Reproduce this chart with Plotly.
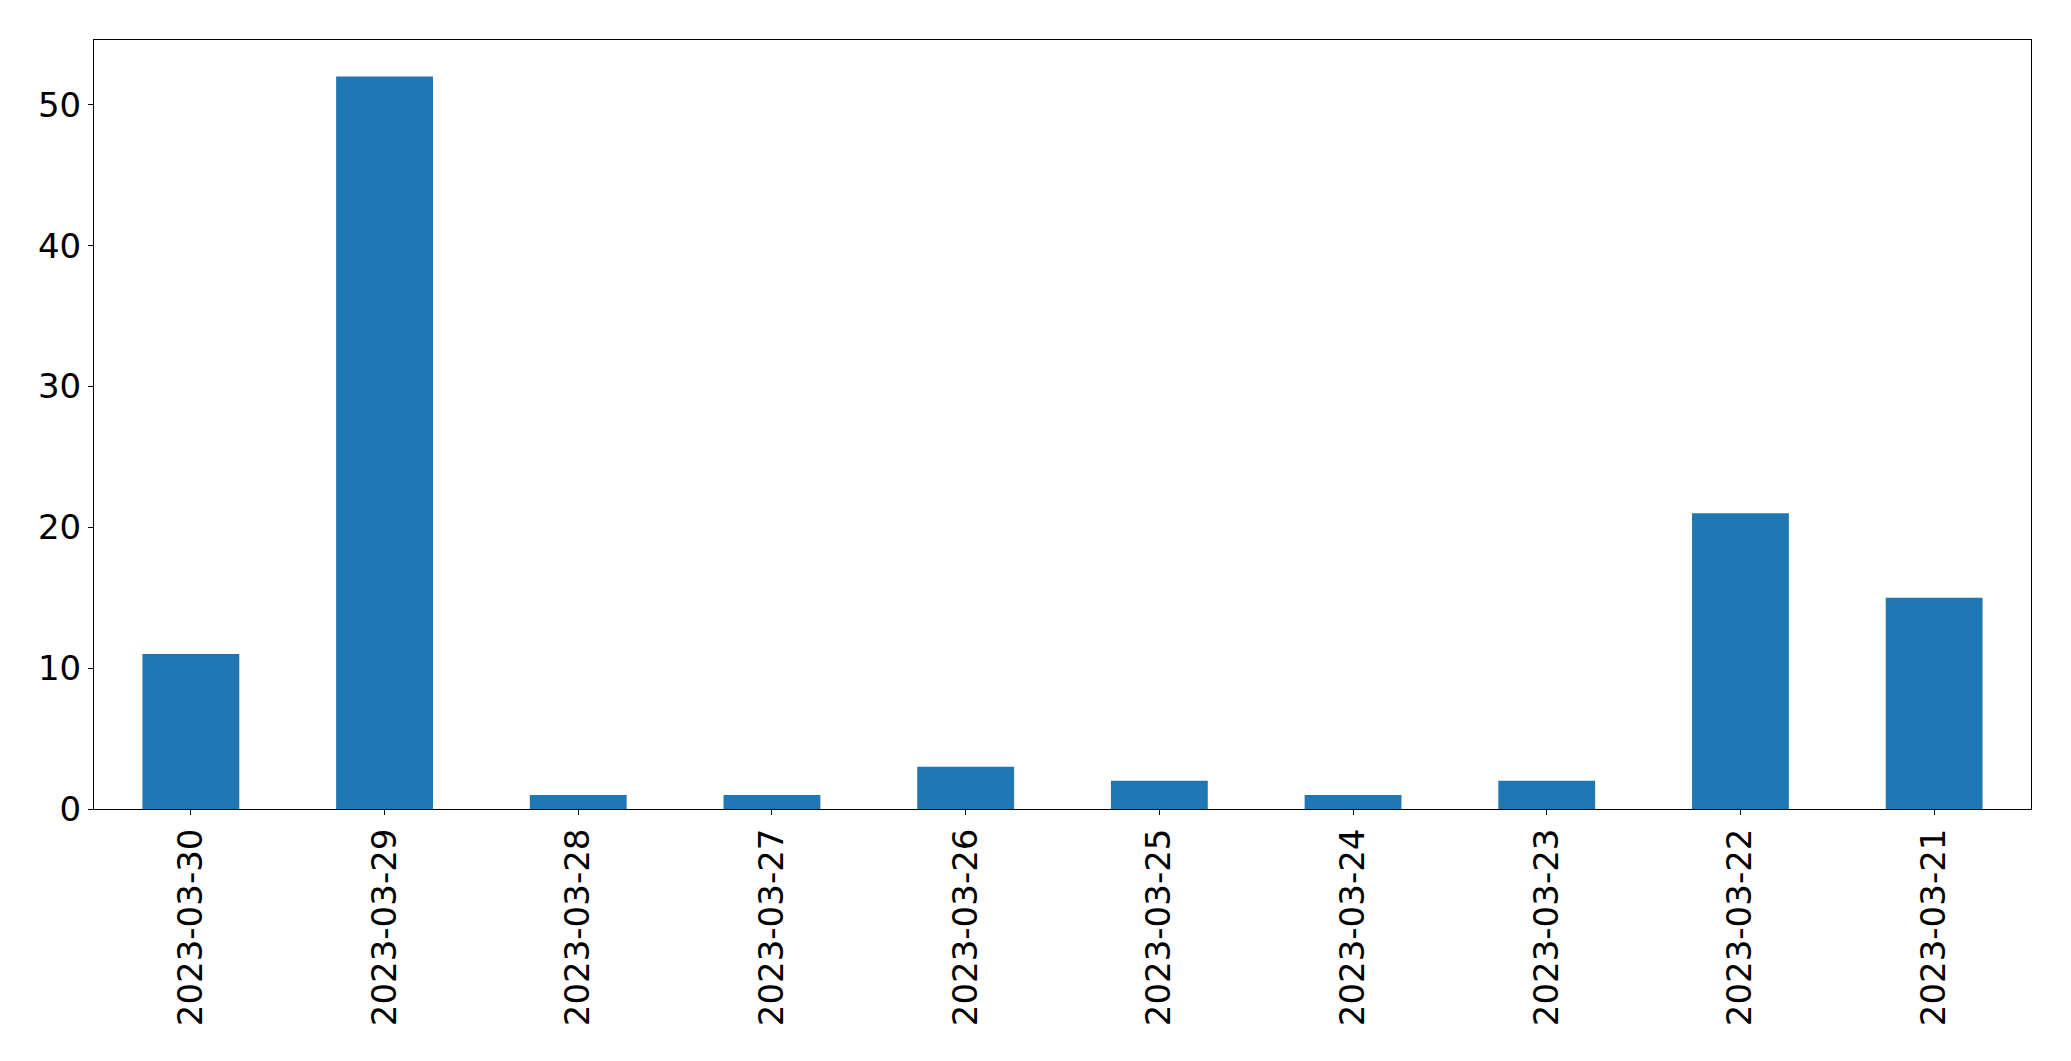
import plotly.graph_objects as go

dates = ["2023-03-30", "2023-03-29", "2023-03-28", "2023-03-27", "2023-03-26",
         "2023-03-25", "2023-03-24", "2023-03-23", "2023-03-22", "2023-03-21"]
counts = [11, 52, 1, 1, 3, 2, 1, 2, 21, 15]
y_ticks = [0, 10, 20, 30, 40, 50]

fig = go.Figure(go.Bar(x=dates, y=counts, marker_color="#1f77b4",
                       marker_line_width=0, width=0.5))

fig.update_layout(
    width=2063, height=1053,
    margin=dict(l=86, r=40, t=32, b=252),
    paper_bgcolor="white", plot_bgcolor="white",
    font=dict(family="DejaVu Sans", size=34, color="black"),
    showlegend=False,
)
fig.update_xaxes(type="category", range=[-0.5, 9.5], tickangle=-90,
                 showline=True, linecolor="black", linewidth=1, mirror=True,
                 ticks="outside", ticklen=5, tickcolor="black", tickwidth=1,
                 showgrid=False, zeroline=False)
fig.update_yaxes(range=[0, 54.6], tickvals=y_ticks,
                 showline=True, linecolor="black", linewidth=1, mirror=True,
                 ticks="outside", ticklen=5, tickcolor="black", tickwidth=1,
                 showgrid=False, zeroline=False)

fig.write_html("out.html")
